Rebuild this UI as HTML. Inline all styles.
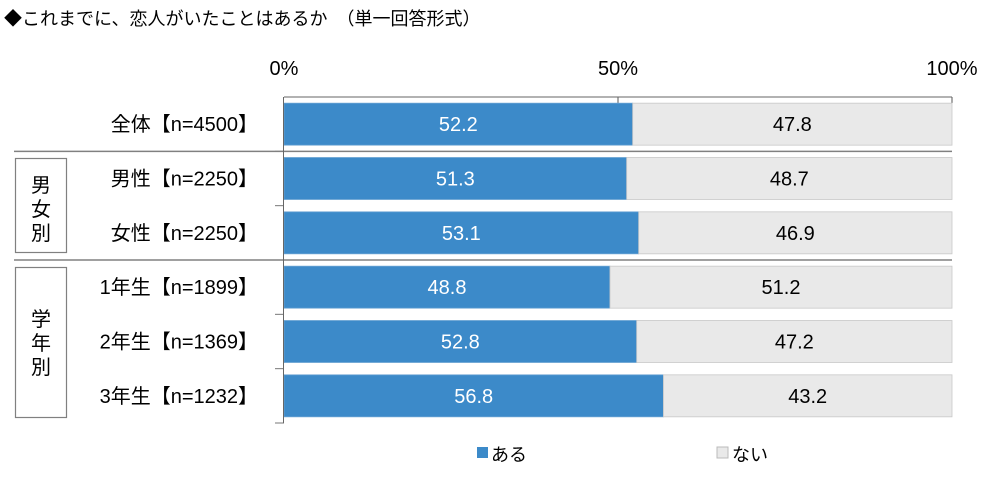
<!DOCTYPE html>
<html><head><meta charset="utf-8"><style>
body{margin:0;background:#fff;}
svg text{font-family:"Liberation Sans","Noto Sans CJK JP",sans-serif;}
</style></head><body>
<svg width="1000" height="476" xmlns="http://www.w3.org/2000/svg">
<text x="4" y="25" font-size="18" fill="#000">◆これまでに、恋人がいたことはあるか　（単一回答形式）</text>
<g id="xticks"></g>
<g id="plot"></g>
<g>
<rect x="15.5" y="158.5" width="51" height="94" fill="#fff" stroke="#808080" stroke-width="1.2"/>
<text x="41" y="192" font-size="20" text-anchor="middle">男</text>
<text x="41" y="216" font-size="20" text-anchor="middle">女</text>
<text x="41" y="240" font-size="20" text-anchor="middle">別</text>
</g>
<g>
<rect x="15.5" y="267.5" width="51" height="150" fill="#fff" stroke="#808080" stroke-width="1.2"/>
<text x="41" y="326" font-size="20" text-anchor="middle">学</text>
<text x="41" y="350" font-size="20" text-anchor="middle">年</text>
<text x="41" y="374" font-size="20" text-anchor="middle">別</text>
</g>
<g>
<rect x="477" y="447" width="11" height="11" fill="#3c8ac9"/>
<text x="491" y="461" font-size="18">ある</text>
<rect x="717" y="447" width="11" height="11" fill="#e9e9e9" stroke="#bbb"/>
<text x="732" y="461" font-size="18">ない</text>
</g>
</svg>
<script>
const categories=["全体【n=4500】","男性【n=2250】","女性【n=2250】","1年生【n=1899】","2年生【n=1369】","3年生【n=1232】"];
const aruValues=[52.2,51.3,53.1,48.8,52.8,56.8];
const naiValues=[47.8,48.7,46.9,51.2,47.2,43.2];
const tickValues=[0,50,100];
const tickLabels=["0%","50%","100%"];
const separatorsAfter=[0,2];
const NS="http://www.w3.org/2000/svg";
const X0=284,X1=952,Y0=97,Y1=423;
const band=(Y1-Y0)/categories.length;
const xs=v=>X0+(X1-X0)*v/100;
function mk(t,a,p){const e=document.createElementNS(NS,t);for(const k in a)e.setAttribute(k,a[k]);p.appendChild(e);return e;}
const plot=document.getElementById('plot'),xt=document.getElementById('xticks');
tickValues.forEach((v,i)=>{
  const t=mk('text',{x:xs(v),y:75,'font-size':20,'text-anchor':'middle'},xt);
  
  
  t.textContent=tickLabels[i];
  if(v>0){const l=mk('line',{x1:xs(v),x2:xs(v),y1:Y0,y2:Y0+6,stroke:'#555'},xt);
  
  }
});
categories.forEach((c,i)=>{
  const top=Y0+band*i, bh=42, by=top+(band-bh)/2;
  const a=mk('rect',{x:xs(0),y:by,width:xs(aruValues[i])-xs(0),height:bh,fill:'#3c8ac9',stroke:'#6aa3d4','stroke-width':0.8},plot);
  
  
  const n=mk('rect',{x:xs(aruValues[i]),y:by,width:xs(aruValues[i]+naiValues[i])-xs(aruValues[i]),height:bh,fill:'#e9e9e9',stroke:'#c8c8c8','stroke-width':0.8},plot);
  
  
  const ta=mk('text',{x:(xs(0)+xs(aruValues[i]))/2,y:by+bh/2+7,'font-size':20,'text-anchor':'middle',fill:'#fff'},plot);
  
  
  ta.textContent=aruValues[i].toFixed(1);
  const tn=mk('text',{x:(xs(aruValues[i])+xs(aruValues[i]+naiValues[i]))/2,y:by+bh/2+7,'font-size':20,'text-anchor':'middle',fill:'#000'},plot);
  
  
  tn.textContent=naiValues[i].toFixed(1);
  const tc=mk('text',{x:258,y:top+band/2+7,'font-size':20,'text-anchor':'end'},plot);
  
  
  tc.textContent=c;
  const tk=mk('line',{x1:275,x2:X0,y1:top+band,y2:top+band,stroke:'#777'},plot);
  
  
});
separatorsAfter.forEach(i=>{
  const y=Y0+band*(i+1);
  const l=mk('line',{x1:14,x2:X1,y1:y,y2:y,stroke:'#808080','stroke-width':1.5},plot);
  
  
});
const ax=mk('line',{x1:X0-0.5,x2:X0-0.5,y1:Y0,y2:Y1,stroke:'#666'},plot);


const tx=mk('line',{x1:X0,x2:X1,y1:Y0,y2:Y0,stroke:'#666'},plot);


</script>
</body></html>
